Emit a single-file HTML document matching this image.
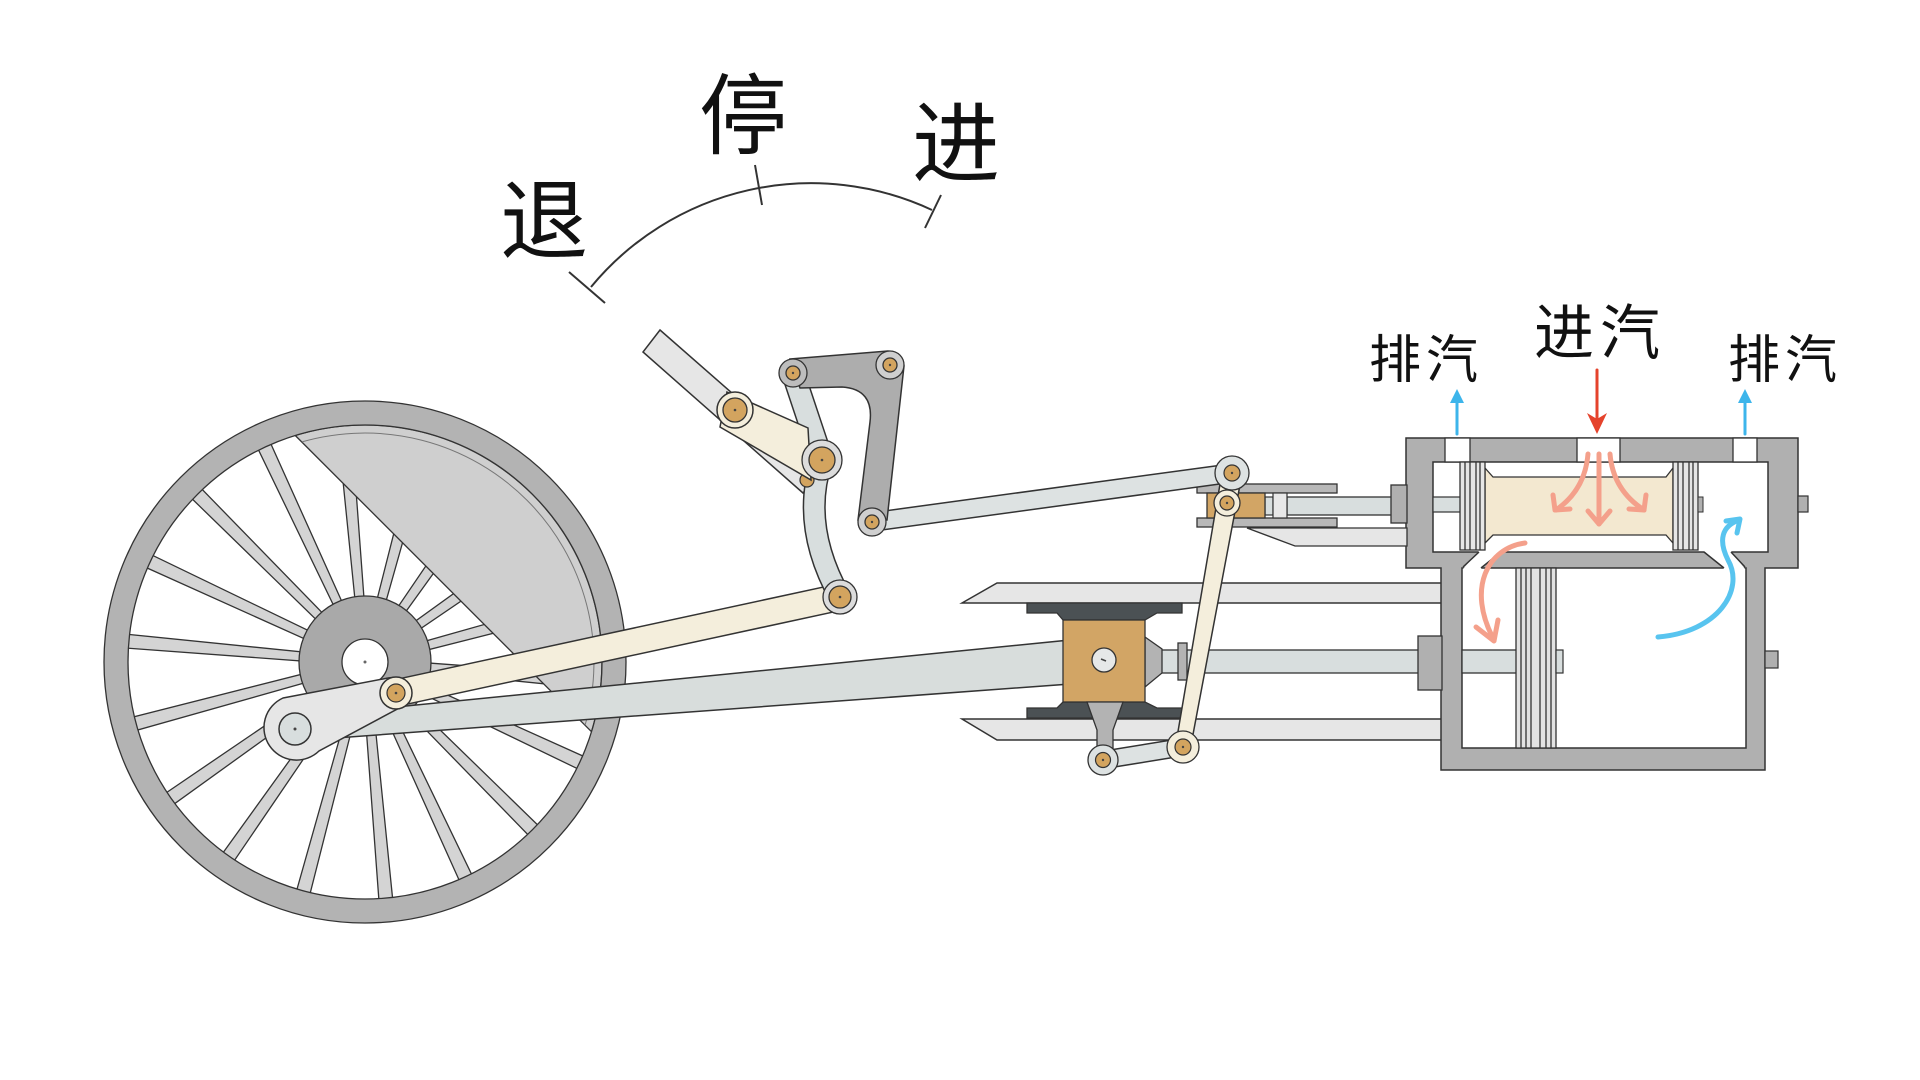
<!DOCTYPE html>
<html><head><meta charset="utf-8"><style>html,body{margin:0;padding:0;background:#fff}svg{display:block}</style></head>
<body>
<svg width="1920" height="1080" viewBox="0 0 1920 1080" xmlns="http://www.w3.org/2000/svg">
<rect width="1920" height="1080" fill="#fff"/>
<!-- labels -->
<g font-family="'Liberation Sans','Noto Sans CJK SC',sans-serif" fill="#111" text-anchor="middle">
<text x="743" y="147" font-size="88">停</text>
<text x="544" y="252" font-size="88">退</text>
<text x="956" y="175" font-size="88">进</text>
<text x="1395" y="378" font-size="52">排</text>
<text x="1452" y="378" font-size="52">汽</text>
<text x="1564" y="354" font-size="60">进</text>
<text x="1630" y="354" font-size="60">汽</text>
<text x="1754" y="378" font-size="52">排</text>
<text x="1811" y="378" font-size="52">汽</text>
</g>
<!-- arc -->
<g stroke="#333" stroke-width="2" fill="none">
<path d="M591 287 A285.5 285.5 0 0 1 932 210"/>
<line x1="569" y1="272" x2="605" y2="303"/>
<line x1="755" y1="165" x2="762" y2="205"/>
<line x1="941" y1="195" x2="925" y2="228"/>
</g>

<!-- wheel -->
<g stroke="#333" stroke-width="1.3">
<g transform="translate(365 662)" fill="#d4d4d4">
<polygon points="22,-4 246,-7 246,7 22,4" transform="rotate(5)"/>
<polygon points="22,-4 246,-7 246,7 22,4" transform="rotate(25)"/>
<polygon points="22,-4 246,-7 246,7 22,4" transform="rotate(45)"/>
<polygon points="22,-4 246,-7 246,7 22,4" transform="rotate(65)"/>
<polygon points="22,-4 246,-7 246,7 22,4" transform="rotate(85)"/>
<polygon points="22,-4 246,-7 246,7 22,4" transform="rotate(105)"/>
<polygon points="22,-4 246,-7 246,7 22,4" transform="rotate(125)"/>
<polygon points="22,-4 246,-7 246,7 22,4" transform="rotate(145)"/>
<polygon points="22,-4 246,-7 246,7 22,4" transform="rotate(165)"/>
<polygon points="22,-4 246,-7 246,7 22,4" transform="rotate(185)"/>
<polygon points="22,-4 246,-7 246,7 22,4" transform="rotate(205)"/>
<polygon points="22,-4 246,-7 246,7 22,4" transform="rotate(225)"/>
<polygon points="22,-4 246,-7 246,7 22,4" transform="rotate(245)"/>
<polygon points="22,-4 246,-7 246,7 22,4" transform="rotate(265)"/>
<polygon points="22,-4 246,-7 246,7 22,4" transform="rotate(285)"/>
<polygon points="22,-4 246,-7 246,7 22,4" transform="rotate(305)"/>
<polygon points="22,-4 246,-7 246,7 22,4" transform="rotate(325)"/>
<polygon points="22,-4 246,-7 246,7 22,4" transform="rotate(345)"/>
</g>
<path d="M295.3 435.5 A237 237 0 0 1 591.5 731.7 Z" fill="#cfcfcf"/>
<path d="M301.9 441.9 A229 229 0 0 1 585.1 725.1" fill="none" stroke="#777" stroke-width="1"/>
<circle cx="365" cy="662" r="249" fill="none" stroke="#b3b3b3" stroke-width="24"/>
<circle cx="365" cy="662" r="261" fill="none"/>
<circle cx="365" cy="662" r="237" fill="none"/>
<circle cx="365" cy="662" r="66" fill="#a9a9a9"/>
<circle cx="365" cy="662" r="23" fill="#fff"/>
<circle cx="365" cy="662" r="1.5" fill="#666" stroke="none"/>
</g>

<!-- slide bars -->
<g stroke="#333" stroke-width="1.5" fill="#e6e6e6">
<polygon points="962,603 997,583 1442,583 1442,603"/>
<polygon points="962,719 1442,719 1442,740 997,740"/>
</g>

<!-- main rod -->
<polygon points="295,717 1070,640 1070,684 295,741" fill="#d8dddc" stroke="#333" stroke-width="1.5"/>
<!-- crank arm -->
<path d="M283 698 L388 678 A16.5 16.5 0 0 1 403 706 L319 751 A32.5 32.5 0 1 1 283 698 Z" fill="#e6e6e6" stroke="#333" stroke-width="1.5"/>
<circle cx="295" cy="729" r="16" fill="#d8dede" stroke="#333" stroke-width="1.5"/>
<circle cx="295" cy="729" r="1.5" fill="#444"/>

<!-- eccentric rod -->
<line x1="396" y1="693" x2="840" y2="597" stroke="#333" stroke-width="28"/>
<line x1="396" y1="693" x2="840" y2="597" stroke="#f4eedc" stroke-width="25"/>
<circle cx="396" cy="693" r="16" fill="#f4eedc" stroke="#333" stroke-width="1.5"/>
<circle cx="396" cy="693" r="9" fill="#d3a45f" stroke="#333" stroke-width="1.2"/>
<circle cx="396" cy="693" r="1.3" fill="#444"/>

<!-- cylinder body -->
<path d="M1406 438 H1798 V568 H1765 V770 H1441 V568 H1406 Z" fill="#b0b0b0" stroke="#333" stroke-width="1.5"/>
<rect x="1798" y="496" width="10" height="16" fill="#b0b0b0" stroke="#333" stroke-width="1.2"/>
<rect x="1765" y="651" width="13" height="17" fill="#b0b0b0" stroke="#333" stroke-width="1.2"/>
<rect x="1433" y="462" width="335" height="90" fill="#fff" stroke="#333" stroke-width="1.5"/>
<rect x="1462" y="568" width="284" height="180" fill="#fff" stroke="#333" stroke-width="1.5"/>
<polygon points="1479,551 1501,551 1481,569 1463,569" fill="#fff"/>
<polygon points="1704,551 1731,551 1745,569 1724,569" fill="#fff"/>
<g stroke="#333" stroke-width="1.5">
<line x1="1501" y1="552" x2="1481" y2="568"/>
<line x1="1479" y1="552" x2="1463" y2="567"/>
<line x1="1704" y1="552" x2="1724" y2="568"/>
<line x1="1731" y1="552" x2="1745" y2="567"/>
</g>
<g fill="#fff" stroke="#333" stroke-width="1.3">
<rect x="1445" y="438" width="25" height="24"/>
<rect x="1577" y="438" width="43" height="24"/>
<rect x="1733" y="438" width="24" height="24"/>
</g>

<!-- piston rod & gland -->
<rect x="1160" y="650" width="260" height="23" fill="#d8dede" stroke="#333" stroke-width="1.3"/>
<rect x="1462" y="650" width="56" height="23" fill="#d8dede" stroke="#333" stroke-width="1.3"/>
<rect x="1418" y="636" width="24" height="54" fill="#b0b0b0" stroke="#333" stroke-width="1.3"/>
<!-- main piston -->
<rect x="1516" y="568" width="40" height="180" fill="#e2e2e2" stroke="#333" stroke-width="1.3"/>
<g stroke="#333" stroke-width="1.3">
<line x1="1521" y1="568" x2="1521" y2="748"/><line x1="1526" y1="568" x2="1526" y2="748"/>
<line x1="1531" y1="568" x2="1531" y2="748"/><line x1="1540" y1="568" x2="1540" y2="748"/>
<line x1="1546" y1="568" x2="1546" y2="748"/><line x1="1551" y1="568" x2="1551" y2="748"/>
</g>
<rect x="1556" y="650" width="7" height="23" fill="#d8dede" stroke="#333" stroke-width="1.2"/>

<!-- valve -->
<rect x="1433" y="497" width="28" height="15" fill="#d8dede" stroke="#333" stroke-width="1.2"/>
<polygon points="1485,468 1493,477 1666,477 1673,468 1673,543 1666,535 1493,535 1485,543" fill="#f3e8d0" stroke="#333" stroke-width="1.3"/>
<g fill="#e6e6e6" stroke="#333" stroke-width="1.3">
<rect x="1460" y="462" width="25" height="88"/>
<rect x="1673" y="462" width="25" height="88"/>
</g>
<g stroke="#333" stroke-width="1.3">
<line x1="1465" y1="462" x2="1465" y2="550"/><line x1="1470" y1="462" x2="1470" y2="550"/>
<line x1="1476" y1="462" x2="1476" y2="550"/><line x1="1480" y1="462" x2="1480" y2="550"/>
<line x1="1678" y1="462" x2="1678" y2="550"/><line x1="1683" y1="462" x2="1683" y2="550"/>
<line x1="1689" y1="462" x2="1689" y2="550"/><line x1="1693" y1="462" x2="1693" y2="550"/>
</g>
<rect x="1698" y="497" width="5" height="15" fill="#b0b0b0" stroke="#333" stroke-width="1"/>

<!-- valve crosshead -->
<polygon points="1247,528 1407,528 1407,546 1295,546" fill="#e6e6e6" stroke="#333" stroke-width="1.3"/>
<rect x="1287" y="497" width="106" height="18" fill="#d8dede" stroke="#333" stroke-width="1.3"/>
<rect x="1391" y="485" width="16" height="38" fill="#b0b0b0" stroke="#333" stroke-width="1.3"/>
<rect x="1197" y="484" width="140" height="9" fill="#b8b8b8" stroke="#333" stroke-width="1.3"/>
<rect x="1197" y="518" width="140" height="9" fill="#b8b8b8" stroke="#333" stroke-width="1.3"/>
<rect x="1265" y="497" width="8" height="18" fill="#d8dede" stroke="#333" stroke-width="1.2"/>
<rect x="1273" y="493" width="14" height="25" fill="#e8e8e8" stroke="#333" stroke-width="1.2"/>
<rect x="1207" y="493" width="58" height="25" fill="#d2a565" stroke="#333" stroke-width="1.3"/>

<!-- crosshead -->
<g stroke="#333" stroke-width="1.3">
<polygon points="1027,603 1182,603 1182,613 1157,613 1145,620 1063,620 1057,613 1027,613" fill="#4b5154"/>
<polygon points="1027,718 1182,718 1182,708 1157,708 1145,702 1063,702 1057,708 1027,708" fill="#4b5154"/>
<polygon points="1145,637 1162,649 1162,673 1145,687" fill="#b3b3b3"/>
<rect x="1178" y="643" width="9" height="37" fill="#b3b3b3"/>
<rect x="1063" y="620" width="82" height="82" fill="#d2a565"/>
<circle cx="1104" cy="660" r="12" fill="#e6e8e8"/>
<polygon points="1087,702 1123,702 1113,730 1113,755 1097,755 1097,730" fill="#b3b3b3"/>
</g>
<line x1="1101" y1="659" x2="1106" y2="661" stroke="#444" stroke-width="1.5"/>

<!-- union link -->
<line x1="1103" y1="760" x2="1183" y2="747" stroke="#333" stroke-width="19"/>
<line x1="1103" y1="760" x2="1183" y2="747" stroke="#dde2e2" stroke-width="16"/>
<circle cx="1103" cy="760" r="15" fill="#dde2e2" stroke="#333" stroke-width="1.3"/>
<circle cx="1103" cy="760" r="7.5" fill="#d3a45f" stroke="#333" stroke-width="1.2"/>

<!-- valve gear -->
<polygon points="660,330 821,471 803,493 643,352" fill="#e6e6e6" stroke="#333" stroke-width="1.5"/>
<line x1="872" y1="522" x2="1232" y2="473" stroke="#333" stroke-width="20"/>
<line x1="872" y1="522" x2="1232" y2="473" stroke="#dde2e2" stroke-width="17"/>
<line x1="793" y1="373" x2="822" y2="460" stroke="#333" stroke-width="24"/>
<line x1="793" y1="373" x2="822" y2="460" stroke="#d8dede" stroke-width="21"/>
<path d="M822 460 Q800 525 840 597" fill="none" stroke="#333" stroke-width="23"/>
<path d="M822 460 Q800 525 840 597" fill="none" stroke="#d8dede" stroke-width="20"/>
<path d="M790 359 L888 351 Q903 352 904 366 L887 520 L858 520 L870 422 Q874 389 842 387 L800 388 Z" fill="#adadad" stroke="#333" stroke-width="1.5"/>
<circle cx="807" cy="480" r="7" fill="#d3a45f" stroke="#333" stroke-width="1.2"/>
<path d="M727 392 L808 428 L811 480 L720 427 Z" fill="#f4eedc" stroke="#333" stroke-width="1.5"/>
<circle cx="735" cy="410" r="18" fill="#f4eedc" stroke="#333" stroke-width="1.5"/>

<!-- combination lever -->
<polygon points="1241.9,474.8 1190.4,748.3 1175.6,745.7 1222.2,471.2" fill="#f4eedc" stroke="#333" stroke-width="1.5"/>
<circle cx="1183" cy="747" r="16" fill="#f4eedc" stroke="#333" stroke-width="1.3"/>
<circle cx="1183" cy="747" r="8" fill="#d3a45f" stroke="#333" stroke-width="1.2"/>
<circle cx="1227" cy="503" r="13" fill="#f4eedc" stroke="#333" stroke-width="1.3"/>
<circle cx="1227" cy="503" r="7" fill="#d3a45f" stroke="#333" stroke-width="1.2"/>
<circle cx="1232" cy="473" r="17" fill="#dde2e2" stroke="#333" stroke-width="1.3"/>
<circle cx="1232" cy="473" r="8" fill="#d3a45f" stroke="#333" stroke-width="1.2"/>

<!-- pins -->
<g stroke="#333" stroke-width="1.3">
<circle cx="735" cy="410" r="12" fill="#d3a45f"/>
<circle cx="822" cy="460" r="20" fill="#dcdcdc"/>
<circle cx="822" cy="460" r="13" fill="#d3a45f"/>
<circle cx="840" cy="597" r="17" fill="#dcdcdc"/>
<circle cx="840" cy="597" r="11" fill="#d3a45f"/>
<circle cx="793" cy="373" r="14" fill="#bdbdbd"/>
<circle cx="793" cy="373" r="7" fill="#d3a45f"/>
<circle cx="890" cy="365" r="14" fill="#cfcfcf"/>
<circle cx="890" cy="365" r="7" fill="#d3a45f"/>
<circle cx="872" cy="522" r="14" fill="#cfcfcf"/>
<circle cx="872" cy="522" r="7" fill="#d3a45f"/>
</g>
<g fill="#444">
<circle cx="735" cy="410" r="1.3"/><circle cx="822" cy="460" r="1.3"/><circle cx="840" cy="597" r="1.3"/>
<circle cx="793" cy="373" r="1.2"/><circle cx="890" cy="365" r="1.2"/><circle cx="872" cy="522" r="1.2"/>
<circle cx="1232" cy="473" r="1.2"/><circle cx="1227" cy="503" r="1.2"/><circle cx="1183" cy="747" r="1.2"/><circle cx="1103" cy="760" r="1.2"/>
</g>

<!-- flow arrows -->
<g fill="none" stroke-linecap="round" stroke-linejoin="round">
<g stroke="#3db5eb" stroke-width="3">
<line x1="1457" y1="434" x2="1457" y2="400"/>
<line x1="1745" y1="434" x2="1745" y2="400"/>
</g>
<line x1="1597" y1="370" x2="1597" y2="420" stroke="#e5432c" stroke-width="3"/>
<g stroke="#f4a08b" stroke-width="5">
<path d="M1599 454 L1599 524"/><path d="M1588 511 L1599 524 L1610 511"/>
<path d="M1588 454 Q1585 490 1556 510"/><path d="M1553 495 L1555 510 L1570 509"/>
<path d="M1610 454 Q1613 490 1644 510"/><path d="M1646 495 L1644 510 L1629 509"/>
<path d="M1525 543 C1488 548 1466 588 1494 640"/><path d="M1476 627 L1494 641 L1498 620"/>
</g>
<g stroke="#58c4ef" stroke-width="5">
<path d="M1658 637 C1718 632 1745 590 1728 560 C1718 540 1722 526 1739 520"/>
<path d="M1726 521 L1740 519 L1737 533"/>
</g>
</g>
<polygon points="1457,389 1450,403 1464,403" fill="#3db5eb"/>
<polygon points="1745,389 1738,403 1752,403" fill="#3db5eb"/>
<polygon points="1597,434 1587,413 1597,419 1607,413" fill="#e5432c"/>
</svg>
</body></html>
